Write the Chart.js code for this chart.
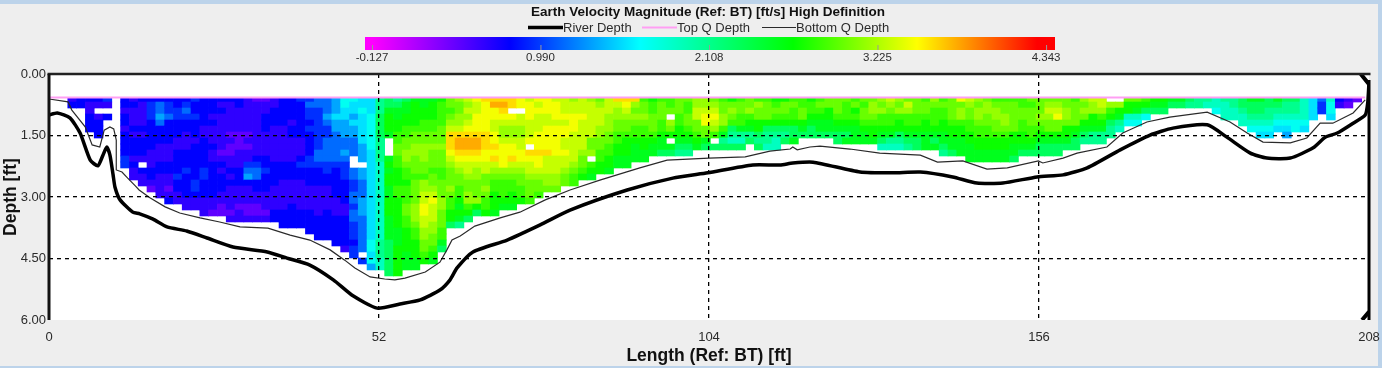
<!DOCTYPE html>
<html>
<head>
<meta charset="utf-8">
<title>Earth Velocity Magnitude</title>
<script src="https://cdn.jsdelivr.net/npm/chart.js@4/dist/chart.umd.min.js"></script>
<style>
  html, body { margin: 0; padding: 0; overflow: hidden; }
  body { width: 1382px; height: 368px; box-sizing: border-box; background: #eeeeee;
         border-style: solid; border-color: #bcd3ea; border-width: 4px 4px 2px 0; }
  #chart { position: absolute; left: 0; top: 0; filter: blur(0.4px); }
</style>
</head>
<body>
<canvas id="chart" width="1382" height="368"></canvas>
<script>
const lengthTicks = [0, 52, 104, 156, 208];
const depthTicks = [0, 1.5, 3, 4.5, 6];
const colorBarTicks = [-0.127, 0.990, 2.108, 3.225, 4.343];

// speed (ft/s) and colour stops
const stopSpeeds = [-0.127, 0.79, 1.65, 2.665, 3.487, 4.283];
const stopColors = [[255, 0, 255], [0, 0, 255], [0, 255, 255], [0, 255, 0], [255, 255, 0], [255, 0, 0]];

// one letter per cell, a = speedLevels[0] and so on, '.' = no data
const speedLevels = [0.45, 0.62, 0.79, 0.95, 1.15, 1.35, 1.55, 1.7, 1.9, 2.1, 2.3, 2.55, 2.7, 2.85, 3.0, 3.15, 3.3, 3.45, 3.6, 3.75, 3.9];

// ensembles left to right, each read top to bottom
const speedColumns = [
  'bc', 'cc', 'cbbccc', 'cb.bccc', 'db.c', '',
  'ccbccbccccdd', 'bcbbbcbcccbcbb', 'cbbbbcbcccb.cbb', 'cdddcccccbbbccba', 'ceefecccbbbccbbbb',
  'cddeccccbbbccbbabc', 'ccddcccbbccccdccbb', 'cdedccbbbcccdccccbb', 'dccdcccbccccccddcbb', 'cccccbbcccccddcccbbb',
  'cccbcbbbcbbccccccbba', 'cbcbbbbbbabcbcccbbaa', 'cbbbbbabaabbcbcbbbbab', 'ccbbbbaaabbbcccbbbabb', 'bbbbbbababbdefcbbbaab',
  'abbbbbbbbbcdeeccbbaab', 'abbcccbbbbccdcccbbbab', 'bbcccbbbbbbccccbbbbcc', 'cccccbbbbbbcccbbbbbccc', 'ccccbccbbbbcccbbbbcccc',
  'dccccccbbbcdccbbbbbccc', 'deddcdccccddcccbbbbcccc', 'eedddddddeedcccbbbbbcccc', 'eeefeddeeeeddccbbbbccccc', 'fffgffeeeeedcccccbbbccccc',
  'hhggfffeefedddccccbbcccccb', 'hggfgffeee..eeddeedeedddcdd', 'gghgggggfff.ffeeefffeeeeee.d', 'ggghhhhhhggggggggggggggghhghf', 'jjjkkkkjjjjiiiiiiiiiiiiijjjii',
  'kklmmml...lmlmmllmmmllllkkkkkk', 'jkllmmnnoonnmmmnnmmmmmlllmmmmm', 'kllmmnnoopponnmnnnoonnmmmmlll', 'lmmmmnooppooonooooppponnmmmll', 'llmmnnoopppoonppqqrrqqppoonm',
  'lmmmnnoopooonoopqrqqqppoonml', 'mnnnnooopooonnoooppooonnlk', 'oonopqsssrqpoooponnmmk', 'pooppqsttsrqpoonnmlmlj', 'qpqpqrsttsrqqpooppnmk',
  'rqqrrrsttsrqppooopmk', 'srrrrrsssrrqqooponnm', 'strrqqrrsrsqponnmmml', 'stsrqppqrrrrponnnml', 'ss.rqppqrrsqponnmml',
  'rr.qqppqqrrqpoonnm', 'qrrrqqqr.srqqpooon', 'rqrqqqrrrsrrqpoon', 'rrrqqrrrrsqqqppo', 'qrrrqrrrrrqqqppo',
  'qqqrqrrqqrqqpoo', 'pqqrrrqqqqqponn', 'qqqrqqqqqpoonm', 'pqqqqqqoop.nml', 'opqqqppoonnmm',
  'qqqpppoonnmml', 'sqppoonnmmll', 'srqpoonmmmll', 'spoponnmlll', 'nooponnmmll',
  'mnnooonmll', 'nooonnmllk', 'nno.pom.lk', 'ooonnmmlkj', 'onnoonmlkj',
  'ppqqoonml', 'ppqrroolk', 'opqrqpn.k', 'nooppnljk', 'moponkjik',
  'noonnljik', 'oopnmljk', 'npoommkjk', 'nooomkjji', 'mnonmkjii',
  'moonmkjk', 'nonnmkkl', 'nnoomlk', 'mnnmlkk', 'nonmllk',
  'oommllk', 'ooonmlkk', 'onnnmlkl', 'nomnmlll', 'onoonmll',
  'opponmml', 'popnnmlki', 'qponnmlji', 'popnmmkji', 'oqpnnmlkj',
  'ooonnmlkk', 'noonmmlll', 'ponnnmlkl', 'nonnmmllkj', 'oooonmmllk',
  'roppnmmlll', 'qpoonnmmlll', 'popponnmmll', 'oppoonnmmll', 'noppoonmmll',
  'noopponmmll', 'nooooommllk', 'nnoonnmmlk', 'onooonnmlk', 'oooponmlkk',
  'opqpoomlkk', 'opqroomlkk', 'ooppommlk', 'noooomlkk', 'popomlkj',
  'qppmmljj', 'qqpnmljj', '.pnmkjj', '.pmlji', 'ommih',
  'omlih', 'nmkh', 'mlk', 'mlk', 'lk',
  'lk', 'kj', 'jj', 'ji', 'iih',
  'jiii', 'jjii', 'kkjii', 'lkkjih', 'lkkjihg',
  'kkjjihg', 'lkjihg', 'kjjihgf', 'kjjihh', 'iiiihg',
  'gggg', 'edd', 'ihhg', 'cb', 'ba', 'a'
];

const riverLength = [0, 1.3, 3.3, 4.9, 6.5, 7.7, 8.5, 9.1, 9.6, 10.1, 10.4, 11.2, 13.2, 14.3, 16.4, 18.6, 21.7, 24.9, 29.0, 34.4, 37.5, 41.1, 44.8, 47.9, 51.7, 55.3, 58.5, 61.6, 63.2, 64.3, 66.8, 72.2, 77.4, 82.1, 91.1, 98.3, 103.8, 110.9, 115.2, 117.2, 120.4, 127.8, 133, 137.3, 142.4, 146.2, 150.3, 155.7, 159.8, 163.6, 168.8, 173.5, 177.1, 182.5, 185.6, 189.3, 191.9, 195.6, 199.2, 201.1, 203, 205.5, 207.4, 207.8, 208];
const riverDepth = [1.00, 0.95, 1.07, 1.44, 2.10, 2.24, 1.98, 1.78, 1.98, 2.46, 2.76, 3.07, 3.37, 3.41, 3.54, 3.73, 3.83, 4.00, 4.22, 4.34, 4.49, 4.66, 5.02, 5.41, 5.71, 5.61, 5.51, 5.27, 5.02, 4.73, 4.34, 4.05, 3.68, 3.32, 2.83, 2.54, 2.41, 2.22, 2.22, 2.17, 2.15, 2.39, 2.41, 2.39, 2.51, 2.66, 2.66, 2.51, 2.46, 2.29, 1.85, 1.49, 1.32, 1.24, 1.54, 1.93, 2.05, 2.05, 1.80, 1.54, 1.44, 1.20, 1.00, 0.70, 0.20];

const bottomLength = [0, 3, 3.6, 5.7, 6.8, 8, 8.7, 9.6, 10.2, 10.6, 10.6, 11.5, 12.4, 13.6, 14.2, 15.9, 18.3, 20.6, 23.8, 26.9, 30.1, 34.5, 38, 41.1, 44.3, 46.6, 48.2, 50.6, 52.9, 54.5, 56.1, 59.3, 61.6, 62.7, 63.5, 64.8, 67.1, 71.1, 74.2, 78.2, 82.1, 86.8, 93.1, 97.4, 104, 109.7, 113.6, 116.8, 117.2, 117.9, 119.9, 121.5, 126.2, 130.9, 137.3, 140, 144, 147.8, 151, 155.9, 156.6, 159.8, 162, 166.7, 169.2, 173, 176.6, 182.5, 186.1, 188.8, 191.3, 195.6, 198.2, 200.3, 202.3, 205.5, 207.4];
const bottomDepth = [0.61, 0.68, 0.88, 1.29, 1.73, 1.78, 1.37, 1.29, 1.34, 1.61, 2.34, 2.39, 2.54, 2.73, 2.83, 3.02, 3.24, 3.39, 3.51, 3.61, 3.73, 3.76, 3.93, 4.05, 4.29, 4.54, 4.73, 4.95, 5.00, 5.02, 4.98, 4.83, 4.59, 4.29, 4.05, 3.95, 3.71, 3.51, 3.37, 3.07, 2.83, 2.59, 2.29, 2.10, 2.05, 2.02, 1.88, 1.83, 1.78, 1.85, 1.78, 1.76, 1.83, 1.93, 1.98, 2.15, 2.12, 2.32, 2.29, 2.12, 2.17, 2.05, 1.93, 1.78, 1.44, 1.17, 1.05, 0.93, 1.17, 1.44, 1.66, 1.68, 1.56, 1.20, 1.20, 0.95, 0.63];

const topLength = [0, 207.4];
const topDepth = [0.573, 0.573];

const cornerLength = [206.7, 208, null, 206.9, 208];
const cornerDepth = [0, 0.25, null, 6, 5.8];

const firstCellLength = 2.96, cellLength = 1.387;
const firstCellDepth = 0.537, cellDepth = 0.1463;

function speedColor(speed) {
  let i = 0;
  while (i < stopSpeeds.length - 2 && speed > stopSpeeds[i + 1]) i++;
  const t = Math.min(1, Math.max(0, (speed - stopSpeeds[i]) / (stopSpeeds[i + 1] - stopSpeeds[i])));
  const c = stopColors[i].map((v, k) => Math.round(v + (stopColors[i + 1][k] - v) * t));
  return 'rgb(' + c.join(',') + ')';
}

const heatCells = [];
const heatColors = [];
speedColumns.forEach((column, i) => {
  [...column].forEach((code, r) => {
    if (code === '.') return;
    const top = firstCellDepth + r * cellDepth;
    heatCells.push({
      x: firstCellLength + (i + 0.5) * cellLength,
      y: [Math.max(top, topDepth[0]), top + cellDepth]
    });
    heatColors.push(speedColor(speedLevels[code.charCodeAt(0) - 97]));
  });
});

function toPoints(xs, ys) {
  return xs.map((x, i) => ({ x: x, y: ys[i] }));
}

const FONT = '"Liberation Sans", Arial, sans-serif';
const TEXT = '#2b2b2b';

// header: title, line legend and colour bar, all drawn above the plot
const headerPlugin = {
  id: 'header',
  beforeDraw(chart) {
    const { ctx, chartArea: a } = chart;
    ctx.save();
    ctx.fillStyle = '#fff';
    ctx.fillRect(a.left, a.top, a.right - a.left, a.bottom - a.top);
    ctx.restore();
  },
  afterDraw(chart) {
    const { ctx, chartArea: a } = chart;
    ctx.save();

    ctx.strokeStyle = '#222';
    ctx.lineWidth = 2.5;
    ctx.beginPath();
    ctx.moveTo(a.left - 1.5, a.top);
    ctx.lineTo(a.right + 1.5, a.top);
    ctx.stroke();
    ctx.lineWidth = 3;
    ctx.strokeStyle = '#111';
    ctx.beginPath();
    ctx.moveTo(a.left, a.top);
    ctx.lineTo(a.left, a.bottom);
    ctx.stroke();
    ctx.strokeStyle = '#000';
    ctx.beginPath();
    ctx.moveTo(a.right, a.top + 6);
    ctx.lineTo(a.right, a.bottom);
    ctx.stroke();

    ctx.fillStyle = '#111';
    ctx.font = 'bold 13.5px ' + FONT;
    ctx.textAlign = 'center';
    ctx.textBaseline = 'middle';
    ctx.fillText('Earth Velocity Magnitude (Ref: BT) [ft/s] High Definition', 708, 12);

    const legendItems = [
      { index: 0, x0: 528, x1: 563 },
      { index: 1, x0: 642, x1: 677 },
      { index: 2, x0: 762, x1: 796 }
    ];
    ctx.textAlign = 'left';
    ctx.font = '13px ' + FONT;
    legendItems.forEach(item => {
      const ds = chart.data.datasets[item.index];
      ctx.strokeStyle = ds.borderColor;
      ctx.lineWidth = ds.borderWidth;
      ctx.beginPath();
      ctx.moveTo(item.x0, 27.5);
      ctx.lineTo(item.x1, 27.5);
      ctx.stroke();
      ctx.fillStyle = TEXT;
      ctx.fillText(ds.label, item.x1, 28);
    });

    const barPx = v => 372 + (v - colorBarTicks[0]) * 150.8;
    const grad = ctx.createLinearGradient(365, 0, 1055, 0);
    grad.addColorStop(0, speedColor(stopSpeeds[0]));
    stopSpeeds.forEach(s => {
      grad.addColorStop((barPx(s) - 365) / 690, speedColor(s));
    });
    grad.addColorStop(1, speedColor(stopSpeeds[5]));
    ctx.fillStyle = grad;
    ctx.fillRect(365, 37, 690, 13);

    ctx.font = '11.5px ' + FONT;
    ctx.textAlign = 'center';
    colorBarTicks.forEach(v => {
      ctx.strokeStyle = '#999';
      ctx.lineWidth = 1;
      ctx.beginPath();
      ctx.moveTo(barPx(v) + 0.5, 45);
      ctx.lineTo(barPx(v) + 0.5, 50);
      ctx.stroke();
      ctx.fillStyle = TEXT;
      ctx.fillText(v.toFixed(3), barPx(v), 57.5);
    });
    ctx.restore();
  }
};

const gridColor = edges => ctx => edges.includes(ctx.tick.value) ? 'rgba(0,0,0,0)' : '#000';

new Chart(document.getElementById('chart'), {
  type: 'bar',
  data: {
    datasets: [
      { type: 'line', label: 'River Depth', data: toPoints(riverLength, riverDepth), borderColor: '#000', borderWidth: 3.5, pointRadius: 0, tension: 0.2, order: 1 },
      { type: 'line', label: 'Top Q Depth', data: toPoints(topLength, topDepth), borderColor: '#ff9ff3', borderWidth: 2, pointRadius: 0, order: 2 },
      { type: 'line', label: 'Bottom Q Depth', data: toPoints(bottomLength, bottomDepth), borderColor: '#2a2a2a', borderWidth: 1.2, pointRadius: 0, order: 3 },
      { type: 'line', label: 'Corners', data: toPoints(cornerLength, cornerDepth), borderColor: '#000', borderWidth: 4, pointRadius: 0, order: 4 },
      { label: 'Velocity', data: heatCells, backgroundColor: heatColors, barThickness: 8.8, borderWidth: 0, order: 5 }
    ]
  },
  options: {
    responsive: false,
    animation: false,
    layout: { padding: { top: 74, right: 13, left: 0, bottom: 0 } },
    plugins: { legend: { display: false }, title: { display: false }, tooltip: { enabled: false } },
    scales: {
      x: {
        type: 'linear', min: 0, max: 208, offset: false,
        afterBuildTicks: s => { s.ticks = lengthTicks.map(v => ({ value: v })); },
        afterFit: s => { s.height = 48; s.paddingLeft = 0; s.paddingRight = 0; },
        border: { display: false, dash: [4, 4] },
        grid: { z: 1, offset: false, drawTicks: false, color: gridColor([0, 208]), lineWidth: 1.3 },
        ticks: { autoSkip: false, maxRotation: 0, padding: 10, color: TEXT, font: { family: FONT, size: 13 }, callback: v => String(v) },
        title: { display: true, text: 'Length (Ref: BT) [ft]', color: '#111', font: { family: FONT, size: 17.5, weight: 'bold' }, padding: { top: 1, bottom: 1 } }
      },
      y: {
        type: 'linear', reverse: true, min: 0, max: 6,
        afterBuildTicks: s => { s.ticks = depthTicks.map(v => ({ value: v })); },
        afterFit: s => { s.width = 49; s.paddingTop = 0; s.paddingBottom = 0; },
        border: { display: false, dash: [4, 4] },
        grid: { z: 1, drawTicks: false, color: gridColor([0, 6]), lineWidth: 1.3 },
        ticks: { autoSkip: false, padding: 3, color: TEXT, font: { family: FONT, size: 13 }, callback: v => v.toFixed(2) },
        title: { display: true, text: 'Depth [ft]', color: '#111', font: { family: FONT, size: 17.5, weight: 'bold' }, padding: { top: 1, bottom: 1 } }
      }
    }
  },
  plugins: [headerPlugin]
});
</script>
</body>
</html>
